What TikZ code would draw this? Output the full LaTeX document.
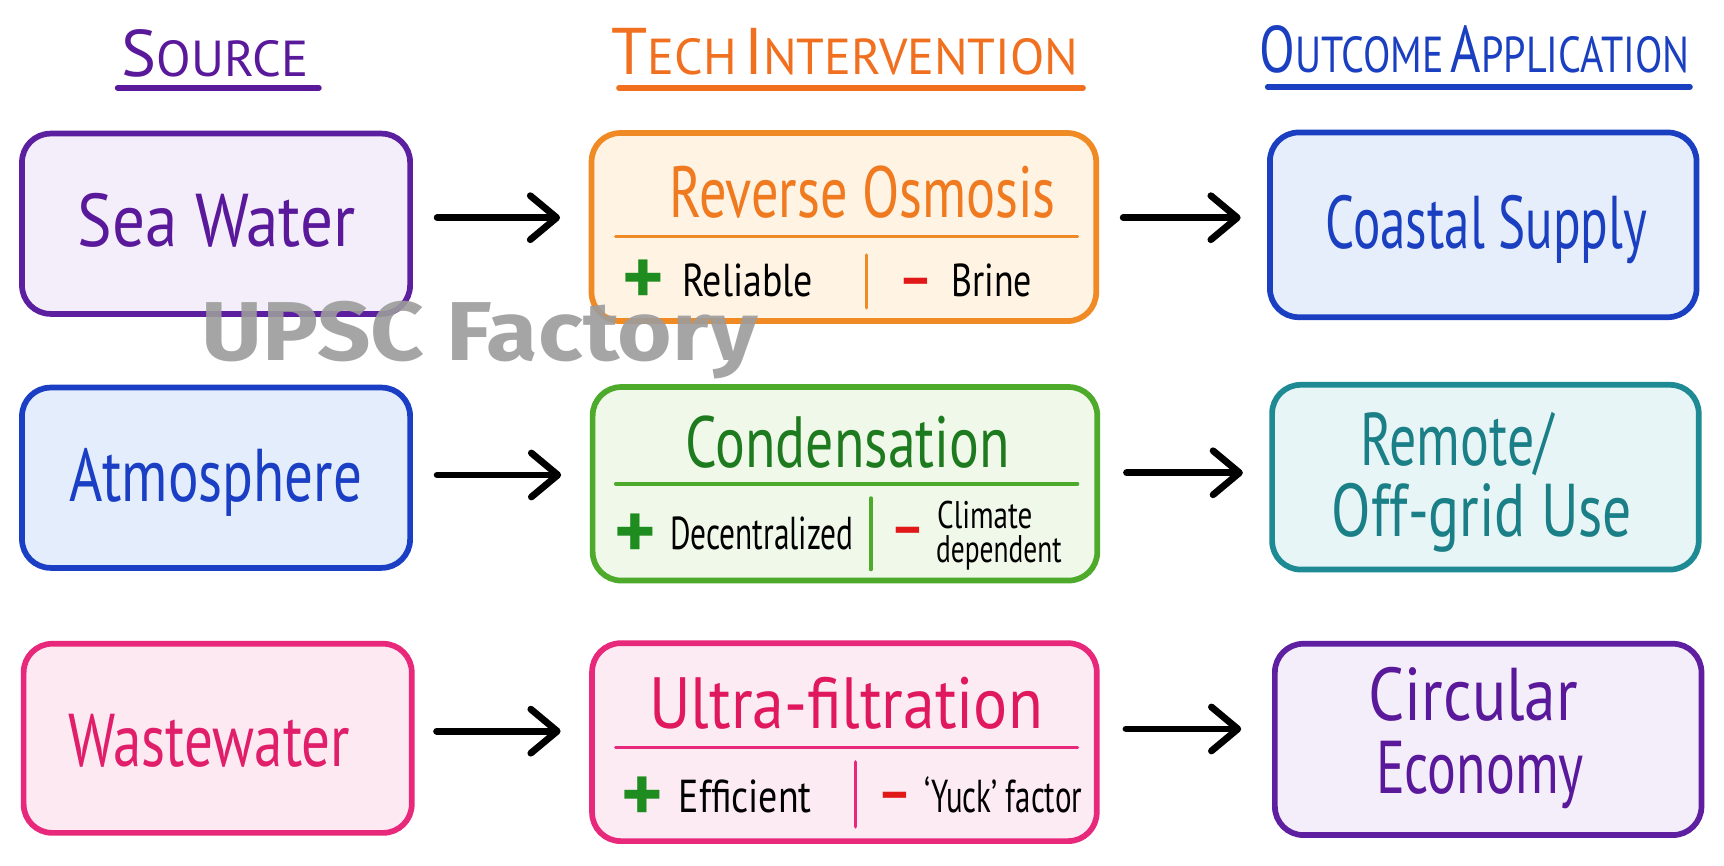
\documentclass[tikz,border=0pt]{standalone}
\usepackage{fontspec}
\usepackage{graphicx}
\setmainfont{PT Sans}
\newfontfamily\hand[FakeStretch=0.72]{PT Sans}
\newfontfamily\ttlfont[FakeStretch=0.9]{PT Sans}
\newfontfamily\wmfont{Fira Sans}
\usetikzlibrary{arrows.meta}
\definecolor{srcT}{HTML}{5A189A}
\definecolor{techT}{HTML}{F07020}
\definecolor{outT}{HTML}{1A3FC0}
\definecolor{seaS}{HTML}{5C1FA0}\definecolor{seaF}{HTML}{F3EEF9}
\definecolor{roS}{HTML}{F08A24}\definecolor{roF}{HTML}{FFF3E3}\definecolor{roT}{HTML}{F07A20}
\definecolor{coS}{HTML}{1A3FC0}\definecolor{coF}{HTML}{E6EEFB}
\definecolor{atS}{HTML}{1B3FC4}\definecolor{atF}{HTML}{E3EDFB}
\definecolor{cnS}{HTML}{4DAA2A}\definecolor{cnF}{HTML}{F0F8EA}\definecolor{cnT}{HTML}{1E7A1E}
\definecolor{rmS}{HTML}{1E8A94}\definecolor{rmF}{HTML}{E8F5F6}\definecolor{rmT}{HTML}{1A7F86}
\definecolor{wwS}{HTML}{E8287A}\definecolor{wwF}{HTML}{FDE9F2}\definecolor{wwT}{HTML}{E01E6A}
\definecolor{ufS}{HTML}{E8287A}\definecolor{ufF}{HTML}{FDEBF3}\definecolor{ufT}{HTML}{E0185E}
\definecolor{ceS}{HTML}{5E1FA0}\definecolor{ceF}{HTML}{F3EEF9}
\definecolor{plusG}{HTML}{1E8C1E}
\definecolor{minusR}{HTML}{E01818}
\definecolor{wm}{HTML}{9C9C9C}
\newcommand\mysc[2]{{\fontsize{30}{30}\selectfont #1}{\fontsize{23}{23}\selectfont #2}}
\newcommand\hs[2]{\scalebox{#1}[1]{#2}}
\begin{document}
\begin{tikzpicture}[x=0.5pt,y=-0.5pt,
  box/.style={draw, line width=2.6pt, rounded corners=13pt, inner sep=0pt},
  srcbox/.style={box, minimum width=176.5pt, minimum height=82pt},
  techbox/.style={box, minimum width=229.5pt, minimum height=87pt},
  outbox/.style={box, minimum width=194pt, minimum height=84pt},
  boxtxt/.style={font=\hand\fontsize{34}{33}\selectfont, anchor=base, inner sep=0pt},
  ttl/.style={font=\ttlfont, anchor=base, inner sep=0pt},
  techttl/.style={font=\hand\fontsize{33}{33}\selectfont, anchor=base, inner sep=0pt},
  lbl/.style={font=\hand\fontsize{21}{21}\selectfont, inner sep=0pt, anchor=base west},
  slbl/.style={font=\hand\fontsize{17.5}{17.5}\selectfont, inner sep=0pt, anchor=base west},
  plus/.style={font=\bfseries\fontsize{36}{36}\selectfont, text=plusG, inner sep=0pt},
  minus/.style={font=\bfseries\fontsize{24}{24}\selectfont, text=minusR, inner sep=0pt},
  divline/.style={line width=1.6pt, line cap=round},
  uline/.style={line width=2.6pt, line cap=round},
  arr/.style={line width=3.1pt, line cap=round, -{Straight Barb[length=12pt,width=20pt,round]}}]
\useasboundingbox[fill=white] (0,0) rectangle (1568,787);

% titles
\node[ttl, text=srcT] (tsrc) at (195.5,70) {\hs{1.11}{\mysc{S}{OURCE}}};
\node[ttl, text=techT] (ttech) at (768.5,68) {\hs{1.1}{\mysc{T}{ECH}\hspace{0.3em}\mysc{I}{NTERVENTION}}};
\node[ttl, text=outT] (tout) at (1341,66) {\hs{0.88}{\mysc{O}{UTCOME}\hspace{0.35em}\mysc{A}{PPLICATION}}};
\coordinate (us1) at (107,80); \coordinate (us2) at (290,80);
\coordinate (ut1) at (563,80); \coordinate (ut2) at (985,80);
\coordinate (uo1) at (1153,79); \coordinate (uo2) at (1537,79);
\draw[uline, srcT] (us1) -- (us2);
\draw[uline, techT] (ut1) -- (ut2);
\draw[uline, outT] (uo1) -- (uo2);

% boxes
\node[srcbox, draw=seaS, fill=seaF] (sea) at (196.5,203.5) {};
\node[techbox, draw=roS, fill=roF, minimum height=85.5pt] (ro) at (767.5,206.5) {};
\node[outbox, draw=coS, fill=coF] (co) at (1349,204.5) {};
\node[srcbox, draw=atS, fill=atF] (at) at (196.5,434.5) {};
\node[techbox, draw=cnS, fill=cnF, minimum height=88pt] (cn) at (768.5,440) {};
\node[outbox, draw=rmS, fill=rmF] (rm) at (1351,434) {};
\node[srcbox, draw=wwS, fill=wwF, minimum height=86pt] (ww) at (198,671.5) {};
\node[techbox, draw=ufS, fill=ufF, minimum height=90pt] (uf) at (768,675) {};
\node[outbox, draw=ceS, fill=ceF, minimum height=87pt] (ce) at (1353.5,672.5) {};

% box texts
\node[boxtxt, text=srcT] (seaL) at (197,224) {\hs{1.21}{Sea Water}};
\node[boxtxt, text=outT] (coL) at (1352,226) {\hs{0.95}{Coastal Supply}};
\node[boxtxt, text=atS] (atL) at (196.5,456) {\hs{1.06}{Atmosphere}};
\node[boxtxt, text=rmT] (rmL1) at (1325,423) {Remote/};
\node[boxtxt, text=rmT] (rmL2) at (1348,488) {\hs{1.07}{Off-grid Use}};
\node[boxtxt, text=wwT] (wwL) at (190.5,697) {\hs{1.06}{Wastewater}};
\node[boxtxt, text=srcT] (ceL1) at (1340,655) {\hs{1.18}{Circular}};
\node[boxtxt, text=srcT] (ceL2) at (1346,722) {Economy};

% RO internals
\node[techttl, text=roT] (roTitle) at (784.5,198) {\hs{1.04}{Reverse Osmosis}};
\draw[divline, roS] (560,215) -- (980,215);
\draw[divline, roS] (788,232) -- (788,280);
\node[plus] (roP) at (585,257) {+};
\node[lbl] (roPro) at (620,270) {\hs{1.14}{Reliable}};
\node[minus] (roM) at (833,261) {–};
\node[lbl] (roCon) at (865,270) {\hs{1.08}{Brine}};

% Condensation internals
\node[techttl, text=cnT] (cnTitle) at (771,425) {\hs{1.066}{Condensation}};
\draw[divline, cnS] (560,440) -- (980,440);
\draw[divline, cnS] (792,453) -- (792,518);
\node[plus] (cnP) at (578,488) {+};
\node[lbl] (cnPro) at (609,500) {\hs{0.945}{Decentralized}};
\node[minus] (cnM) at (826,488) {–};
\node[slbl] (cnCon1) at (852,481) {\hs{1.05}{Climate}};
\node[slbl] (cnCon2) at (851,512) {\hs{0.99}{dependent}};

% Ultra-filtration internals
\node[techttl, text=ufT] (ufTitle) at (769.5,663) {\hs{1.22}{Ultra-filtration}};
\draw[divline, ufS] (560,680) -- (980,680);
\draw[divline, ufS] (778,693) -- (778,752);
\node[plus] (ufP) at (584,727) {+};
\node[lbl] (ufPro) at (617,739) {\hs{1.14}{Efficient}};
\node[minus] (ufM) at (814,729) {–};
\node[lbl] (ufCon) at (840,739) {\hs{0.93}{‘Yuck’ factor}};

% arrows
\draw[arr, shorten <=11pt, shorten >=13pt] ([yshift=2.75pt]sea.east) -- ([yshift=2.75pt]sea.east -| ro.west);
\draw[arr, shorten <=11pt, shorten >=12pt] ([yshift=4.25pt]ro.east) -- ([yshift=4.25pt]ro.east -| co.west);
\draw[arr, shorten <=11pt, shorten >=13pt] ([yshift=1.25pt]at.east) -- ([yshift=1.25pt]at.east -| cn.west);
\draw[arr, shorten <=12pt, shorten >=12pt] ([yshift=5pt]cn.east) -- ([yshift=5pt]cn.east -| rm.west);
\draw[arr, shorten <=10pt, shorten >=13pt] ([yshift=3.25pt]ww.east) -- ([yshift=3.25pt]ww.east -| uf.west);
\draw[arr, shorten <=12pt, shorten >=14pt] ([yshift=6pt]uf.east) -- ([yshift=6pt]uf.east -| ce.west);

% watermark
\node[font=\wmfont\bfseries\fontsize{38}{38}\selectfont, text=wm, opacity=0.9, inner sep=0pt, anchor=base] (wmk) at (436.5,328) {\hs{1.12}{UPSC Factory}};
\end{tikzpicture}
\end{document}
